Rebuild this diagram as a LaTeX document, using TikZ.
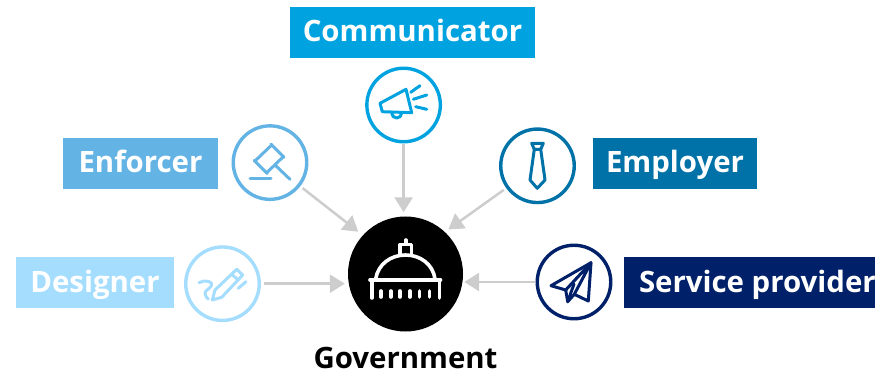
\documentclass[tikz,border=0pt]{standalone}
\usepackage{fontspec}
\setmainfont{Open Sans}
\usetikzlibrary{arrows.meta}
\definecolor{commblue}{HTML}{00A3E0}
\definecolor{enforceblue}{HTML}{63B3E5}
\definecolor{employblue}{HTML}{0072A8}
\definecolor{designblue}{HTML}{A5DDFF}
\definecolor{serviceblue}{HTML}{002169}
\definecolor{arrowgrey}{HTML}{CDCDCD}
\tikzset{
  labelbox/.style={fill=#1,text=white,inner sep=0pt,minimum height=51pt,text height=23pt,text depth=4pt,font=\fontsize{29.4}{32}\selectfont\bfseries},
  iconring/.style={circle,draw=#1,line width=3.4pt,fill=white,minimum size=73.5pt,inner sep=0pt},
  iconline/.style={draw=#1,line width=3pt,line cap=round,line join=round},
  domeline/.style={draw=white,line width=3.6pt,line cap=round,line join=round},
  feedarrow/.style={draw=arrowgrey,line width=2.5pt,-{Triangle[length=15pt,width=18pt]}},
}
\begin{document}
\begin{tikzpicture}[x=1pt,y=-1pt]
\useasboundingbox (0,0) rectangle (875,371);
% labels
\node[labelbox=commblue,minimum width=245pt] (commlabel) at (412.5,32.5) {Communicator};
\node[labelbox=enforceblue,minimum width=155pt] (enforcelabel) at (140.5,163.5) {Enforcer};
\node[labelbox=employblue,minimum width=164pt] (employlabel) at (675,163.5) {Employer};
\node[labelbox=designblue,minimum width=158pt] (designlabel) at (95,282.5) {Designer};
\node[labelbox=serviceblue,minimum width=251pt] (servicelabel) at (749.5,282.5) {\makebox[251pt][l]{\hspace*{15pt}Service provider}};
% rings
\node[iconring=commblue] (comm) at (403.6,105) {};
\node[iconring=enforceblue] (enforce) at (270,162.6) {};
\node[iconring=employblue] (employ) at (537.5,165.8) {};
\node[iconring=designblue] (design) at (222.5,283.7) {};
\node[iconring=serviceblue] (service) at (574,282) {};
\node[circle,fill=black,minimum size=115pt,inner sep=0pt] (gov) at (405.5,274) {};
\node[font=\fontsize{29.4}{32}\selectfont\bfseries,text=black,inner sep=0pt,anchor=base] (govlabel) at (405.5,368) {Government};
\coordinate (govnw) at (358.3,231.7);
\coordinate (govne) at (448.3,229.5);
% arrows
\draw[feedarrow,shorten <=1pt,shorten >=4pt] (comm) -- (comm |- gov.north);
\draw[feedarrow,shorten <=3pt] (enforce) -- (govnw);
\draw[feedarrow,shorten <=3pt] (employ) -- (govne);
\draw[feedarrow,shorten <=3pt,shorten >=3pt] (design.east) -- (design -| gov.west);
\draw[feedarrow,shorten <=1pt,shorten >=1pt] (service.west) -- (service -| gov.east);
% megaphone
\path[iconline=commblue] (380,103.3) -- (406,89.3) -- (411.7,112.7) -- (382.3,111.7) -- cycle;
\path[iconline=commblue] (391.7,113) arc[start angle=180,end angle=0,radius=5pt,y radius=-5pt];
\path[iconline=commblue] (410.7,92.3) -- (420,85.7);
\path[iconline=commblue] (413.3,99.3) -- (426.7,95);
\path[iconline=commblue] (415.7,106.7) -- (426.7,109.3);
% gavel
\path[iconline=enforceblue] (271,144.3) -- (284,157.3);
\path[iconline=enforceblue] (254.3,160.5) -- (267.3,173.5);
\path[iconline=enforceblue] (271.7,145) -- (255,161);
\path[iconline=enforceblue] (283.3,156.7) -- (266.7,172.7);
\path[iconline=enforceblue] (275,165) -- (290,179.3);
\path[iconline=enforceblue] (250,179) -- (271,179);
% tie
\path[iconline=employblue] (531.7,143.3) -- (543.3,143.3) -- (540.7,149.3) -- (534.3,149.3) -- cycle;
\path[iconline=employblue] (534.3,149.3) -- (530,180) -- (537.3,188.3) -- (545,180) -- (540.7,149.3);
% pen
\path[iconline=designblue] (212.3,300) -- (215,290) -- (236.7,269.3) -- (242.7,275) -- (221.7,297.3) -- cycle;
\path[iconline=designblue] (231.7,274.3) -- (238.3,280);
\path[iconline=designblue] (238.3,288.3) -- (246,281.7);
\path[iconline=designblue] (199,282.7) .. controls (205,279) and (213,282) .. (211.7,285) .. controls (210,289) and (205,290) .. (205,293.5) .. controls (205,296) and (207,298) .. (208.3,299);
% plane
\path[iconline=serviceblue] (591,262.7) -- (551,285.7) -- (565.7,290) -- (567.7,301.7) -- (574.3,294.3) -- (588.3,301) -- cycle;
\path[iconline=serviceblue] (565.7,290) -- (591,262.7) -- (574.3,294.3);
\path[iconline=serviceblue] (567.7,301.7) -- (574,284);
% dome
\path[domeline] (370,280) -- (440.5,280);
\path[domeline] (371.7,280) -- (371.7,298);
\path[domeline] (439.3,280) -- (439.3,298);
\foreach \px in {381,390.7,400,410,419.3,429.3}
  \path[domeline] (\px,291) -- (\px,297);
\path[domeline] (375.7,279) .. controls (378,264) and (391,255) .. (405.5,255) .. controls (420,255) and (433,264) .. (435,279);
\path[domeline] (400,255) -- (400,244.5) -- (411.5,244.5) -- (411.5,255);
\path[domeline] (405.7,240) -- (405.7,244);
\end{tikzpicture}
\end{document}
